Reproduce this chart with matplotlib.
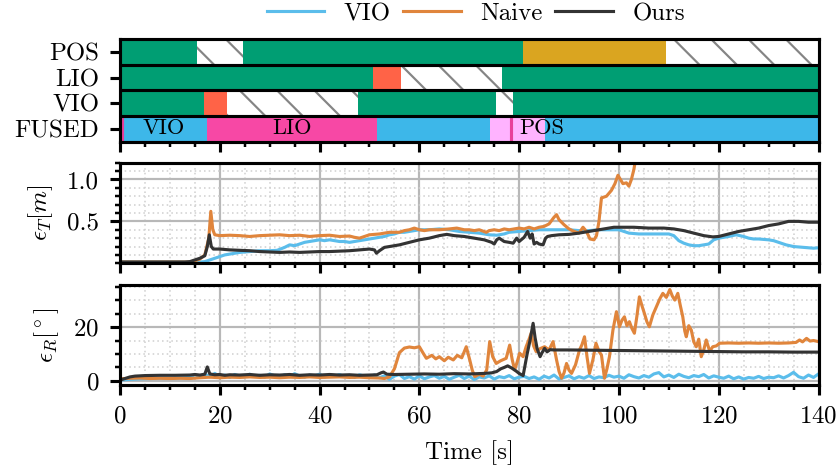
import matplotlib
matplotlib.use("Agg")
import matplotlib.pyplot as plt
from matplotlib.ticker import MultipleLocator
from matplotlib.lines import Line2D

# ---------------- data ----------------
row_names = ["FUSED", "VIO", "LIO", "POS"]  # bottom -> top

pos_segments = [(0, 15.4, "ok"), (15.4, 24.7, "missing"), (24.7, 80.8, "ok"),
                (80.8, 109.4, "degraded"), (109.4, 140, "missing")]
lio_segments = [(0, 50.7, "ok"), (50.7, 56.4, "fail"), (56.4, 76.6, "missing"),
                (76.6, 140, "ok")]
vio_segments = [(0, 16.8, "ok"), (16.8, 21.4, "fail"), (21.4, 47.7, "missing"),
                (47.7, 75.4, "ok"), (75.4, 78.8, "missing"), (78.8, 140, "ok")]
fused_segments = [(0, 17.4, "VIO"), (17.4, 51.6, "LIO"), (51.6, 74.1, "VIO"),
                  (74.1, 85.1, "TRANS"), (85.1, 140, "VIO")]
fused_switches = [0.5, 78.4]
fused_labels = [("VIO", 8.7), ("LIO", 34.5), ("POS", 84.5)]

vio_T = [(0, 0.015), (5, 0.015), (10, 0.015), (14, 0.015), (16, 0.015), (17, 0.02), (18, 0.04),
         (19, 0.06), (20, 0.08), (21, 0.10), (22, 0.11), (23, 0.12), (24, 0.13), (26, 0.14),
         (28, 0.15), (30, 0.15), (31.5, 0.155), (33, 0.19), (34, 0.22), (35, 0.21), (36, 0.23),
         (37, 0.25), (38, 0.26), (39, 0.27), (40, 0.28), (41, 0.27), (42, 0.28), (43, 0.27),
         (44, 0.26), (45, 0.26), (46, 0.25), (47, 0.26), (48, 0.27), (49, 0.28), (50, 0.29),
         (51, 0.30), (52, 0.31), (53, 0.32), (54, 0.34), (55, 0.35), (56, 0.37), (57, 0.37),
         (58, 0.38), (59, 0.39), (60, 0.40), (62, 0.40), (64, 0.41), (66, 0.40), (68, 0.38),
         (70, 0.37), (72, 0.36), (74, 0.34), (75.5, 0.335), (77, 0.35), (78, 0.37), (80, 0.38),
         (82, 0.39), (84, 0.40), (86, 0.40), (88, 0.40), (90, 0.40), (92, 0.39), (94, 0.39),
         (96, 0.40), (98, 0.40), (100, 0.40), (101, 0.38), (102, 0.36), (104, 0.35), (106, 0.35),
         (108, 0.35), (110, 0.35), (111, 0.33), (112, 0.27), (113, 0.24), (114, 0.22), (115, 0.21),
         (116, 0.21), (117, 0.22), (118, 0.23), (119, 0.28), (120, 0.30), (122, 0.32), (123.5, 0.34),
         (125, 0.32), (126, 0.30), (127, 0.29), (128, 0.29), (130, 0.28), (131, 0.27), (132, 0.25),
         (133.5, 0.22), (135, 0.20), (137, 0.19), (139, 0.18), (140, 0.185)]

naive_T = [(0, 0.015), (14, 0.015), (15, 0.03), (16, 0.05), (17, 0.10), (17.8, 0.30), (18.2, 0.62),
           (18.6, 0.40), (19, 0.34), (20, 0.33), (22, 0.335), (24, 0.33), (26, 0.32), (28, 0.33),
           (30, 0.335), (32, 0.34), (34, 0.33), (36, 0.335), (38, 0.32), (40, 0.33), (42, 0.335),
           (44, 0.32), (46, 0.325), (47, 0.31), (48, 0.30), (49, 0.32), (50, 0.34), (52, 0.35),
           (54, 0.37), (56, 0.37), (57, 0.39), (58, 0.40), (59, 0.42), (60, 0.40), (61, 0.39),
           (62, 0.40), (64, 0.40), (66, 0.41), (67.5, 0.42), (69, 0.40), (70, 0.40), (71, 0.39),
           (72, 0.40), (73.4, 0.37), (74, 0.39), (75, 0.40), (76, 0.39), (77, 0.41), (78, 0.40),
           (79, 0.41), (80, 0.42), (81, 0.41), (82, 0.43), (83, 0.41), (84, 0.43), (85, 0.44),
           (86, 0.47), (87, 0.55), (87.5, 0.58), (88, 0.52), (89, 0.46), (90, 0.41), (91, 0.38),
           (92, 0.36), (92.8, 0.43), (93.5, 0.38), (94.2, 0.29), (95, 0.28), (95.5, 0.33), (96, 0.50),
           (96.5, 0.78), (97.5, 0.80), (98.5, 0.87), (99.2, 0.95), (99.8, 1.05), (100.8, 0.95),
           (101.5, 0.96), (102, 0.92), (102.5, 1.00), (103, 1.12), (103.5, 1.30), (104, 1.60)]

ours_T = [(0, 0.015), (13, 0.015), (14, 0.02), (15, 0.04), (16, 0.06), (17, 0.09), (17.5, 0.20),
          (17.9, 0.34), (18.3, 0.20), (18.7, 0.17), (20, 0.17), (22, 0.16), (24, 0.155), (26, 0.15),
          (28, 0.14), (30, 0.135), (32, 0.13), (34, 0.135), (36, 0.13), (38, 0.135), (40, 0.14),
          (42, 0.14), (44, 0.145), (46, 0.15), (48, 0.16), (50, 0.17), (51, 0.16), (51.4, 0.12),
          (52, 0.15), (53, 0.19), (54, 0.20), (56, 0.22), (58, 0.25), (60, 0.28), (62, 0.30),
          (64, 0.33), (65.5, 0.345), (67, 0.33), (69, 0.32), (71, 0.30), (73, 0.28), (74.5, 0.25),
          (75, 0.23), (75.5, 0.28), (76, 0.30), (77, 0.26), (78, 0.25), (78.8, 0.24), (79.5, 0.30),
          (80, 0.26), (81, 0.31), (81.7, 0.38), (82.2, 0.30), (82.6, 0.35), (83, 0.23), (83.5, 0.25),
          (84, 0.23), (84.8, 0.22), (85.3, 0.30), (85.7, 0.32), (86.5, 0.33), (88, 0.34), (90, 0.345),
          (92, 0.36), (94, 0.38), (96, 0.40), (98, 0.42), (99, 0.43), (100, 0.43), (103, 0.43),
          (106, 0.42), (109, 0.42), (111, 0.41), (113, 0.39), (115, 0.36), (117, 0.33), (118.8, 0.315),
          (120, 0.32), (122, 0.35), (124, 0.38), (126, 0.40), (128, 0.42), (130, 0.45), (132, 0.47),
          (134, 0.50), (136, 0.50), (138, 0.49), (140, 0.49)]

vio_R_time = [0, 2, 4, 6, 8, 10, 12, 13] + list(range(14, 141))
vio_R_vals = [0.3, 0.6, 0.8, 0.9, 1.0, 1.0, 1.1, 1.2,
              1.4, 2.3, 1.7, 2.6, 1.5, 2.8, 1.6, 2.2, 1.3, 2.4,
              1.8, 1.5, 2.5, 1.7, 2.1, 1.4, 2.6, 1.9, 1.5, 2.3,
              1.6, 2.7, 1.8, 1.4, 2.2, 1.9, 2.5, 1.5, 2.0, 1.7,
              2.4, 1.6, 2.1, 1.3, 2.3, 1.8, 1.5, 2.2, 1.2, 1.9,
              0.6, 1.8, 2.4, 0.9, 1.6, 0.7, 1.9, 0.8, 1.5, 2.0,
              1.0, 1.7, 0.6, 1.4, 2.1, 0.9, 1.8, 0.5, 1.5, 1.1,
              1.9, 0.7, 1.6, 1.2, 2.0, 0.8, 1.4, 1.7, 0.9, 1.5,
              0.6, 1.8, 1.1, 2.2, 0.7, 1.3, 1.9, 0.8, 1.6, 1.0,
              2.0, 0.9, 1.5, 1.2, 2.1, 1.4, 1.8, 1.0, 2.3, 1.6,
              1.1, 2.0, 1.4, 2.6, 3.1, 1.5, 2.2, 1.3, 2.5, 1.7,
              1.2, 2.0, 1.6, 2.4, 1.1, 1.9, 1.4, 1.0, 1.8, 0.8,
              1.5, 0.7, 1.3, 1.0, 1.7, 0.9, 1.4, 1.2, 1.9, 1.1,
              2.0, 3.2, 1.6, 1.0, 2.2, 1.3, 2.6]

naive_R = [(0, 0.8), (2, 1.0), (4, 1.1), (6, 0.9), (8, 1.0), (10, 0.9), (12, 1.0), (14, 0.9),
           (16, 1.2), (18, 1.4), (20, 1.2), (22, 1.4), (24, 1.3), (26, 1.5), (28, 1.3), (30, 1.4),
           (32, 1.2), (34, 1.4), (36, 1.3), (38, 1.5), (40, 1.3), (42, 1.4), (44, 1.5), (46, 1.3),
           (48, 1.4), (50, 1.2), (52, 1.1), (53, 0.9), (54, 1.5), (55, 4.5), (56, 10.5), (57, 12.2),
           (58, 12.6), (59, 12.3), (60, 12.7), (60.7, 10.5), (61.4, 8.4), (62.5, 9.5), (63.3, 8.2),
           (64, 9.0), (65, 7.5), (65.8, 8.8), (66.8, 7.8), (67.6, 9.5), (68.5, 8.6), (69.4, 12.7),
           (70.1, 7.8), (70.6, 4.0), (71.1, 1.6), (72, 2.5), (72.8, 1.8), (73.5, 4.1), (74.1, 14.6),
           (74.7, 9.0), (75.4, 6.5), (76.3, 7.5), (77.4, 8.4), (78.1, 13.3), (78.6, 8.0), (79.1, 4.1),
           (79.6, 7.0), (80.1, 10.3), (80.8, 9.0), (81.4, 12.7), (81.9, 15.0), (82.4, 17.7),
           (82.9, 13.0), (83.4, 10.9), (84.2, 12.0), (85.1, 12.7), (86, 11.5), (86.8, 14.6),
           (87.5, 7.8), (88, 3.5), (88.5, 1.0), (89, 3.0), (89.5, 6.5), (90, 4.0), (90.5, 2.8),
           (91.3, 6.0), (92.1, 11.5), (92.6, 13.5), (93.1, 16.4), (93.6, 9.0), (94.1, 2.8), (94.8, 8.0),
           (95.4, 14.0), (96, 11.0), (96.5, 9.6), (97.1, 1.0), (97.6, 4.5), (98.1, 9.0), (98.8, 18.9),
           (99.5, 25.7), (100.1, 20.1), (100.6, 22.5), (101.1, 23.8), (101.6, 20.5), (102.1, 22.0),
           (102.6, 19.5), (103.1, 17.7), (103.6, 24.0), (104.1, 31.2), (104.6, 28.0), (105.1, 25.1),
           (105.6, 22.0), (106.1, 20.1), (106.8, 24.5), (107.5, 27.5), (108.2, 30.5), (108.8, 32.5),
           (109.5, 31.0), (110.2, 33.9), (110.7, 31.5), (111.2, 30.0), (111.8, 32.5), (112.3, 28.0),
           (112.8, 23.8), (113.2, 18.5), (113.5, 16.4), (114, 20.5), (114.5, 18.9), (115, 14.5),
           (115.5, 12.7), (116, 15.5), (116.5, 9.0), (117, 11.5), (117.5, 15.2), (118.2, 11.0),
           (118.8, 12.7), (119.5, 13.0), (120.2, 14.0), (122, 14.1), (124, 14.0), (126, 14.1),
           (128, 14.0), (130, 14.1), (132, 14.0), (134, 14.1), (135.5, 14.3), (136.2, 15.2),
           (136.8, 14.5), (137.6, 15.8), (138.3, 14.8), (139, 15.0), (140, 14.6)]

ours_R = [(0, 0.3), (1, 0.9), (2, 1.5), (3, 1.8), (5, 2.0), (8, 2.1), (11, 2.1), (14, 2.2),
          (15, 2.4), (16, 2.2), (17, 2.5), (17.5, 5.2), (18, 2.6), (19, 2.3), (20, 2.4), (21, 2.1),
          (22, 2.3), (24, 2.2), (26, 2.4), (28, 2.1), (30, 2.3), (32, 2.2), (34, 2.4), (36, 2.1),
          (38, 2.3), (40, 2.2), (42, 2.4), (44, 2.2), (46, 2.3), (48, 2.1), (50, 2.2), (51.5, 2.3),
          (52.3, 3.0), (52.8, 3.3), (53.5, 2.5), (55, 2.4), (58, 2.5), (61, 2.6), (64, 2.5),
          (67, 2.7), (70, 2.6), (73, 2.8), (74.5, 3.0), (75.5, 3.5), (76.3, 4.5), (77, 5.0),
          (77.7, 5.6), (78.5, 4.8), (79.3, 3.8), (80, 2.8), (80.8, 2.0), (81.2, 6.0), (81.6, 10.0),
          (82.2, 15.2), (82.8, 21.4), (83.2, 16.0), (83.6, 12.0), (84.2, 9.0), (84.6, 10.5),
          (85.1, 12.1), (85.6, 10.8), (86.2, 11.6), (87, 11.5), (90, 11.5), (95, 11.4), (100, 11.3),
          (105, 11.2), (110, 11.1), (115, 11.0), (120, 10.9), (125, 10.8), (130, 10.8), (135, 10.7),
          (140, 10.7)]

series_names = ["VIO", "Naive", "Ours"]
series_colors = ["#5BBDEB", "#E0853C", "#333333"]

# ---------------- style ----------------
DPI = 224
plt.rcParams.update({
    "font.family": "serif",
    "font.serif": ["cmr10"],
    "mathtext.fontset": "cm",
    "axes.formatter.use_mathtext": True,
    "font.size": 8,
    "axes.linewidth": 1.0,
    "xtick.direction": "out",
    "ytick.direction": "out",
    "xtick.major.size": 3.2, "xtick.minor.size": 1.6,
    "ytick.major.size": 3.2, "ytick.minor.size": 1.6,
    "xtick.major.width": 1.0, "xtick.minor.width": 0.8,
    "ytick.major.width": 1.0, "ytick.minor.width": 0.8,
    "hatch.linewidth": 0.7,
})

fig = plt.figure(figsize=(840 / DPI, 471 / DPI), dpi=DPI)
L, Wd = 120 / 840, (818.5 - 120) / 840
def box(top, bot):
    return [L, 1 - bot / 471, Wd, (bot - top) / 471]
ax0 = fig.add_axes(box(39.3, 141.5))
ax1 = fig.add_axes(box(162.7, 263.3), sharex=ax0)
ax2 = fig.add_axes(box(285.0, 385.0), sharex=ax0)

state_style = {
    "ok": dict(color="#009E73", linewidth=0),
    "fail": dict(color="#FF6347", linewidth=0),
    "degraded": dict(color="#DAA520", linewidth=0),
    "missing": dict(facecolor="white", edgecolor="#858585", hatch="\\\\", linewidth=0),
    "VIO": dict(color="#3DB7E9", linewidth=0),
    "LIO": dict(color="#F748A5", linewidth=0),
    "TRANS": dict(color="#FFB3FF", linewidth=0),
}
rows = [fused_segments, vio_segments, lio_segments, pos_segments]
for yi, segs in enumerate(rows):
    for s, e, st in segs:
        ax0.barh(yi, e - s, left=s, height=1.0, **state_style[st])
ax0.vlines(fused_switches, -0.5, 0.5, color="#E8409A", lw=1.0)
for txt, x in fused_labels:
    ax0.text(x, 0, txt, ha="center", va="center", fontsize=7.2)
for yb in [0.5, 1.5, 2.5]:
    ax0.axhline(yb, color="black", lw=1.0)
ax0.set_ylim(-0.5, 3.5)
ax0.set_yticks(range(len(row_names)))
ax0.set_yticklabels(row_names)
ax0.tick_params(axis="x", labelbottom=False)

def split(pairs):
    return [p[0] for p in pairs], [p[1] for p in pairs]

for (t, v), c in zip([split(vio_T), split(naive_T), split(ours_T)], series_colors):
    ax1.plot(t, v, color=c, lw=1.0)
for (t, v), c in zip([(vio_R_time, vio_R_vals), split(naive_R), split(ours_R)], series_colors):
    ax2.plot(t, v, color=c, lw=1.0)

ax1.set_ylim(0.0, 1.2)
ax1.yaxis.set_major_locator(MultipleLocator(0.5))
ax1.yaxis.set_minor_locator(MultipleLocator(0.1))
ax1.set_yticks([0.5, 1.0])
ax1.set_yticklabels(["0.5", "1.0"])
ax1.tick_params(axis="x", labelbottom=False)
ax1.set_ylabel(r"$\epsilon_T[m]$")

ax2.set_ylim(-1.5, 35.6)
ax2.yaxis.set_major_locator(MultipleLocator(20))
ax2.yaxis.set_minor_locator(MultipleLocator(5))
ax2.set_ylabel(r"$\epsilon_R[^\circ]$")
ax2.set_xlabel("Time [s]")

for ax in (ax1, ax2):
    ax.grid(which="major", color="#b8b8b8", lw=0.7)
    ax.grid(which="minor", color="#d0d0d0", lw=0.5, ls=(0, (1, 2)))

ax0.set_xlim(0, 140)
ax0.xaxis.set_major_locator(MultipleLocator(20))
ax0.xaxis.set_minor_locator(MultipleLocator(5))
ax0.yaxis.set_minor_locator(plt.NullLocator())

fig.align_ylabels([ax1, ax2])

handles = [Line2D([], [], color=c, lw=1.0) for c in series_colors]
fig.legend(handles, series_names, loc="center", bbox_to_anchor=(476 / 840, 1 - 14 / 471),
           ncol=3, frameon=False, handlelength=2.3, handletextpad=0.8, columnspacing=0.5,
           borderpad=0, borderaxespad=0)

fig.savefig("out.png", dpi=DPI)
